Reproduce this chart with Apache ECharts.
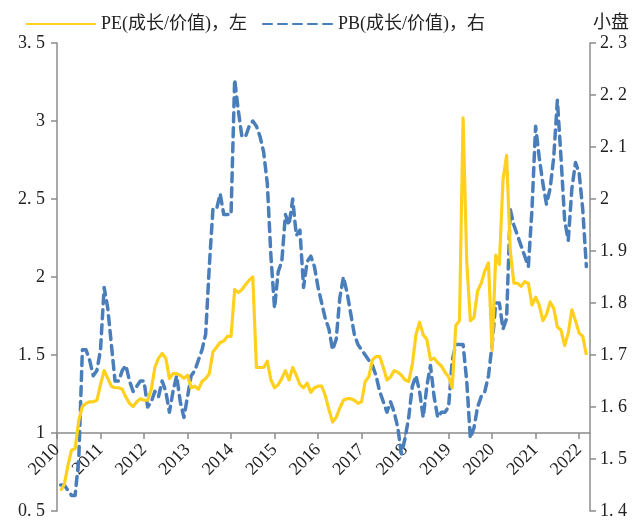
<!DOCTYPE html>
<html>
<head>
<meta charset="utf-8">
<script src="https://cdn.jsdelivr.net/npm/echarts@6/dist/echarts.min.js"></script>
<style>
  html, body { margin: 0; padding: 0; background: #fff; }
  #main { width: 639px; height: 521px; }
</style>
</head>
<body>
<div id="main"></div>
<script>
// 月度序列：2010-01 ~ 2022-04
var months = [];
for (var y = 2010; y <= 2022; y++) {
  for (var m = 1; m <= 12; m++) {
    if (y === 2022 && m > 4) break;
    months.push(y + '-' + (m < 10 ? '0' + m : m));
  }
}

var leftTicks = { min: 0.5, max: 3.5, step: 0.5 };
var rightTicks = { min: 1.4, max: 2.3, step: 0.1 };

// PE(成长/价值)，左轴
var peValues = [
  null, 0.63, 0.67, 0.79, 0.89, 0.90, 1.08, 1.17, 1.19, 1.20, 1.20, 1.21,
  1.31, 1.40, 1.35, 1.30, 1.29, 1.29, 1.28, 1.23, 1.19, 1.17, 1.20, 1.22,
  1.21, 1.21, 1.28, 1.42, 1.48, 1.51, 1.48, 1.35, 1.38, 1.38, 1.37, 1.35,
  1.37, 1.29, 1.30, 1.28, 1.33, 1.35, 1.38, 1.52, 1.55, 1.58, 1.59, 1.62,
  1.62, 1.92, 1.90, 1.92, 1.95, 1.98, 2.00, 1.42, 1.42, 1.42, 1.46, 1.34,
  1.29, 1.31, 1.35, 1.40, 1.34, 1.42, 1.37, 1.31, 1.29, 1.32, 1.26, 1.29,
  1.30, 1.30, 1.24, 1.15, 1.07, 1.10, 1.16, 1.21, 1.22, 1.22, 1.21, 1.19,
  1.20, 1.33, 1.36, 1.47, 1.49, 1.49, 1.42, 1.34, 1.36, 1.40, 1.39, 1.37,
  1.34, 1.33, 1.44, 1.63, 1.71, 1.63, 1.60, 1.47, 1.48, 1.45, 1.43, 1.39,
  1.36, 1.29, 1.69, 1.72, 3.02, 2.10, 1.72, 1.74, 1.91, 1.96, 2.04, 2.09,
  1.53, 2.14, 2.08, 2.62, 2.78, 2.17, 1.96, 1.96, 1.94, 1.97, 1.96, 1.82,
  1.87, 1.82, 1.72, 1.76, 1.84, 1.80, 1.68, 1.66, 1.56, 1.64, 1.79, 1.72,
  1.64, 1.62, 1.50, null
];

// PB(成长/价值)，右轴
var pbValues = [
  null, 1.45, 1.45, 1.44, 1.43, 1.43, 1.50, 1.71, 1.71, 1.69, 1.66, 1.67,
  1.71, 1.83, 1.79, 1.72, 1.65, 1.65, 1.67, 1.68, 1.65, 1.63, 1.64, 1.65,
  1.65, 1.60, 1.61, 1.63, 1.62, 1.65, 1.63, 1.59, 1.63, 1.66, 1.61, 1.58,
  1.62, 1.66, 1.67, 1.69, 1.71, 1.74, 1.87, 1.98, 1.98, 2.01, 1.97, 1.97,
  1.97, 2.23, 2.17, 2.12, 2.12, 2.14, 2.15, 2.14, 2.12, 2.09, 2.03, 1.89,
  1.79, 1.86, 1.88, 1.97, 1.95, 2.00, 1.93, 1.94, 1.83, 1.88, 1.89, 1.87,
  1.83, 1.80, 1.77, 1.75, 1.71, 1.73, 1.81, 1.85, 1.82, 1.78, 1.74, 1.72,
  1.71, 1.70, 1.69, 1.68, 1.66, 1.63, 1.61, 1.59, 1.61, 1.59, 1.56, 1.51,
  1.54, 1.58, 1.64, 1.66, 1.63, 1.58, 1.64, 1.68, 1.62, 1.58, 1.59, 1.59,
  1.60, 1.69, 1.72, 1.72, 1.72, 1.65, 1.54, 1.56, 1.60, 1.62, 1.63, 1.66,
  1.72, 1.80, 1.80, 1.75, 1.77, 1.98, 1.95, 1.93, 1.91, 1.89, 1.87, 1.98,
  2.14, 2.08, 2.03, 1.99, 2.02, 2.08, 2.19, 2.08, 1.96, 1.92, 2.02, 2.07,
  2.05, 1.98, 1.87, null
];

var serif = '"Liberation Serif", "Noto Sans CJK SC", serif';
var axisColor = '#8c8c8c';

// 3.5 -> "3. 5"
function fmt(v) {
  return String(+v.toFixed(2)).replace('.', '. ');
}

var chart = echarts.init(document.getElementById('main'));
chart.setOption({
  animation: false,
  title: {
    text: '小盘',
    right: 5,
    top: 9,
    textStyle: { fontFamily: serif, fontSize: 18, fontWeight: 'normal', color: '#222' }
  },
  legend: {
    left: 20,
    top: 10,
    itemWidth: 70,
    itemHeight: 14,
    itemGap: 15,
    itemStyle: { opacity: 0 },
    textStyle: { fontFamily: serif, fontSize: 18, color: '#222' },
    data: ['PE(成长/价值)，左', 'PB(成长/价值)，右']
  },
  grid: {
    left: 57,
    right: 49,
    top: 43,
    bottom: 10,
    containLabel: false,
    outerBoundsMode: 'none'
  },
  xAxis: {
    type: 'category',
    data: months,
    boundaryGap: false,
    offset: -78,
    axisLine: { onZero: false, lineStyle: { color: axisColor, width: 1.5 } },
    axisTick: { interval: 11, length: 6, lineStyle: { color: axisColor, width: 1.5 } },
    axisLabel: {
      interval: 11,
      rotate: 45,
      margin: 14,
      fontFamily: serif,
      fontSize: 18,
      color: '#222',
      formatter: function (v) { return v.slice(0, 4); }
    },
    splitLine: { show: false }
  },
  yAxis: [
    {
      type: 'value',
      min: leftTicks.min,
      max: leftTicks.max,
      interval: leftTicks.step,
      axisLine: { show: true, lineStyle: { color: axisColor, width: 1.5 } },
      axisTick: { show: true, length: 6, lineStyle: { color: axisColor, width: 1.5 } },
      axisLabel: { fontFamily: serif, fontSize: 18, color: '#222', margin: 12, formatter: fmt },
      splitLine: { show: false }
    },
    {
      type: 'value',
      position: 'right',
      min: rightTicks.min,
      max: rightTicks.max,
      interval: rightTicks.step,
      axisLine: { show: true, lineStyle: { color: axisColor, width: 1.5 } },
      axisTick: { show: true, length: 6, lineStyle: { color: axisColor, width: 1.5 } },
      axisLabel: { fontFamily: serif, fontSize: 18, color: '#222', margin: 10, formatter: fmt },
      splitLine: { show: false }
    }
  ],
  series: [
    {
      name: 'PE(成长/价值)，左',
      type: 'line',
      yAxisIndex: 0,
      data: peValues,
      symbol: 'none',
      z: 3,
      itemStyle: { color: '#ffd01e' },
      lineStyle: { color: '#ffd01e', width: 3.2, join: 'round' }
    },
    {
      name: 'PB(成长/价值)，右',
      type: 'line',
      yAxisIndex: 1,
      data: pbValues,
      symbol: 'none',
      z: 2,
      itemStyle: { color: '#4a7ebb' },
      lineStyle: { color: '#4a7ebb', width: 3.5, type: [9, 6], cap: 'round', join: 'round' }
    }
  ]
});
</script>
</body>
</html>
